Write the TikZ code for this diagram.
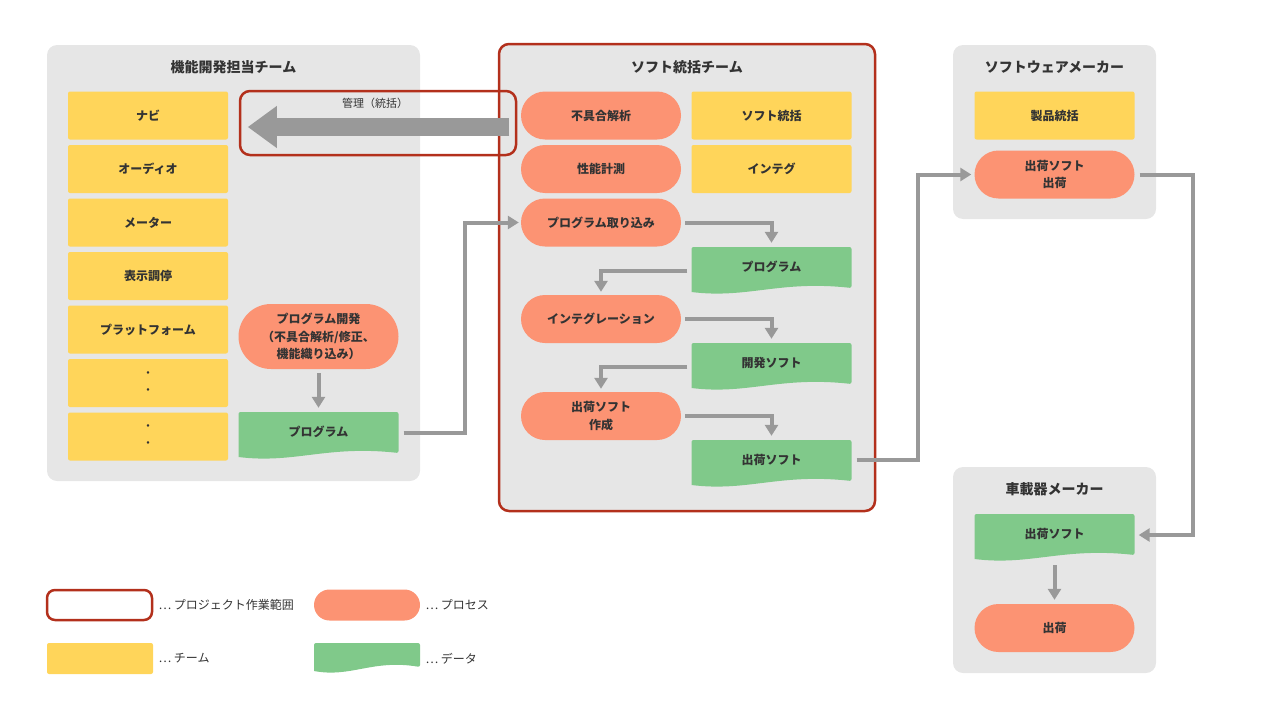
\documentclass[tikz,border=0pt]{standalone}
\usepackage{fontspec}
\setmainfont{Noto Sans CJK JP}
\usetikzlibrary{positioning,arrows.meta,shapes.misc,calc}

\definecolor{panelgray}{HTML}{E6E6E6}
\definecolor{teamyellow}{HTML}{FFD55A}
\definecolor{procorange}{HTML}{FC9373}
\definecolor{docgreen}{HTML}{80C98A}
\definecolor{scopered}{HTML}{B3301C}
\definecolor{flowgray}{HTML}{999999}
\definecolor{textdark}{HTML}{333333}

\newcommand{\lblfont}{\fontsize{12}{17.5}\selectfont\bfseries}

\tikzset{
  panel/.style={rectangle, rounded corners=10pt, fill=panelgray, inner sep=0},
  paneltitle/.style={font=\fontsize{14}{17}\selectfont\bfseries, text=textdark},
  team/.style={rectangle, rounded corners=2pt, fill=teamyellow, minimum width=160pt,
    minimum height=48pt, inner sep=0, align=center, font=\lblfont, text=textdark},
  proc/.style={rounded rectangle, fill=procorange, minimum width=160pt,
    minimum height=48pt, inner sep=0, align=center, font=\lblfont, text=textdark},
  datadoc/.style={rectangle, minimum width=160pt, minimum height=48pt, inner sep=0,
    text depth=10pt, font=\lblfont, text=textdark,
    path picture={
      \coordinate (sw) at (path picture bounding box.south west);
      \coordinate (se) at (path picture bounding box.south east);
      \fill[docgreen, rounded corners=2pt]
        ([yshift=3pt]sw) -- (path picture bounding box.north west)
        -- (path picture bounding box.north east) -- ([yshift=7pt]se) [sharp corners]
        .. controls ($(sw)!0.55!(se)+(0pt,15pt)$) and ($(sw)!0.35!(se)+(0pt,-4pt)$)
        .. ([yshift=3pt]sw) -- cycle;
    }},
  flow/.style={draw=flowgray, line width=4pt, -{Triangle[length=11pt,width=13pt]}},
  scopebox/.style={draw=scopered, line width=2.5pt, rounded corners=10pt},
  legendtext/.style={anchor=west, font=\fontsize{12}{14}\selectfont, text=textdark}
}

\begin{document}
\begin{tikzpicture}[x=1pt,y=-1pt,node distance=53.5pt,on grid]
  \useasboundingbox (0,0) rectangle (1280,720);

  % panels
  \node[panel, minimum width=373pt, minimum height=436pt] (devpanel) at (233.5,263) {};
  \node[panel, scopebox, fill=panelgray, minimum width=376pt, minimum height=467pt] (swpanel) at (687,277.5) {};
  \node[panel, minimum width=203pt, minimum height=174pt] (makerpanel) at (1054.5,132) {};
  \node[panel, minimum width=203pt, minimum height=206pt] (carpanel) at (1054.5,570) {};

  \node[paneltitle] (devtitle) at (233.5,67) {機能開発担当チーム};
  \node[paneltitle] (swtitle) at (687,67) {ソフト統括チーム};
  \node[paneltitle] (makertitle) at (1054.5,67) {ソフトウェアメーカー};
  \node[paneltitle] (cartitle) at (1054.5,489) {車載器メーカー};

  % function teams
  \node[team] (navi) at (148,115.5) {ナビ};
  \node[team] (audio) [below=of navi] {オーディオ};
  \node[team] (meter) [below=of audio] {メーター};
  \node[team] (disp) [below=of meter] {表示調停};
  \node[team] (plat) [below=of disp] {プラットフォーム};
  \node[team, font=\fontsize{12}{17}\selectfont] (etc1) [below=of plat] {・\\・};
  \node[team, font=\fontsize{12}{17}\selectfont] (etc2) [below=of etc1] {・\\・};

  \node[proc, minimum height=65pt] (pdev) at (318.5,336.5) {プログラム開発\\（不具合解析/修正、\\機能織り込み）};
  \node[datadoc] (pdoc) at (318.5,436) {プログラム};

  % management scope
  \node[scopebox, minimum width=276pt, minimum height=64pt] (mgmt) at (378,123) {};
  \node[font=\fontsize{11}{13}\selectfont, text=textdark] (mgmtlbl) at (375,103) {管理（統括）};
  \draw[line width=18pt, flowgray, -{Triangle[length=29pt,width=40pt]}]
    ([xshift=-8pt,yshift=-4pt]mgmt.east) -- ([xshift=9pt,yshift=-4pt]mgmt.west);

  % software integration team
  \node[proc] (defect) at (601,115.5) {不具合解析};
  \node[proc] (perf) [below=of defect] {性能計測};
  \node[proc] (imp) [below=of perf] {プログラム取り込み};
  \node[proc] (integ) at (601,319) {インテグレーション};
  \node[proc] (mkship) at (601,416) {出荷ソフト\\作成};

  \node[team] (swint) at (771.5,115.5) {ソフト統括};
  \node[team] (integteam) [below=of swint] {インテグ};

  \node[datadoc] (progdoc) at (771.5,271) {プログラム};
  \node[datadoc] (devdoc) at (771.5,367) {開発ソフト};
  \node[datadoc] (shipdoc) at (771.5,464) {出荷ソフト};

  % software maker
  \node[team] (prodint) at (1054.5,115.5) {製品統括};
  \node[proc] (ship) at (1054.5,174.5) {出荷ソフト\\出荷};

  % car unit maker
  \node[datadoc] (cardoc) at (1054.5,538) {出荷ソフト};
  \node[proc] (carship) at (1054.5,628) {出荷};

  % flows
  \draw[flow] ([yshift=-4pt]pdev.south) -- ([yshift=4pt]pdoc.north);
  \draw[flow] ([xshift=5pt,yshift=3pt]pdoc.east) -- ++(61,0) |- ([xshift=-2pt]imp.west);
  \draw[flow] ([xshift=4pt]imp.east) -| ([yshift=4pt]progdoc.north);
  \draw[flow] ([xshift=-4pt]progdoc.west) -| ([yshift=3pt]integ.north);
  \draw[flow] ([xshift=4pt]integ.east) -| ([yshift=4pt]devdoc.north);
  \draw[flow] ([xshift=-4pt]devdoc.west) -| ([yshift=3pt]mkship.north);
  \draw[flow] ([xshift=4pt]mkship.east) -| ([yshift=4pt]shipdoc.north);
  \draw[flow] ([xshift=5pt,yshift=4pt]shipdoc.east) -- ++(61,0) |- ([xshift=-3pt]ship.west);
  \draw[flow] ([xshift=5pt]ship.east) -- ++(53,0) |- ([xshift=4pt,yshift=3pt]cardoc.east);
  \draw[flow] ([yshift=-3pt]cardoc.south) -- ([yshift=4pt]carship.north);

  % legend
  \node[scopebox, rounded corners=8pt, fill=white, minimum width=105pt, minimum height=30pt] (lgscope) at (99.5,605) {};
  \node[legendtext] (lgscopetxt) at (155,605) {⋯ プロジェクト作業範囲};
  \node[proc, minimum width=106pt, minimum height=31pt] (lgproc) at (367,605) {};
  \node[legendtext] (lgproctxt) at (422,605) {⋯ プロセス};
  \node[team, minimum width=106pt, minimum height=31pt] (lgteam) at (100,658.5) {};
  \node[legendtext] (lgteamtxt) at (155,658.5) {⋯ チーム};
  \node[datadoc, minimum width=106pt, minimum height=31pt] (lgdoc) at (367,658.5) {};
  \node[legendtext] (lgdoctxt) at (422,658.5) {⋯ データ};
\end{tikzpicture}
\end{document}
